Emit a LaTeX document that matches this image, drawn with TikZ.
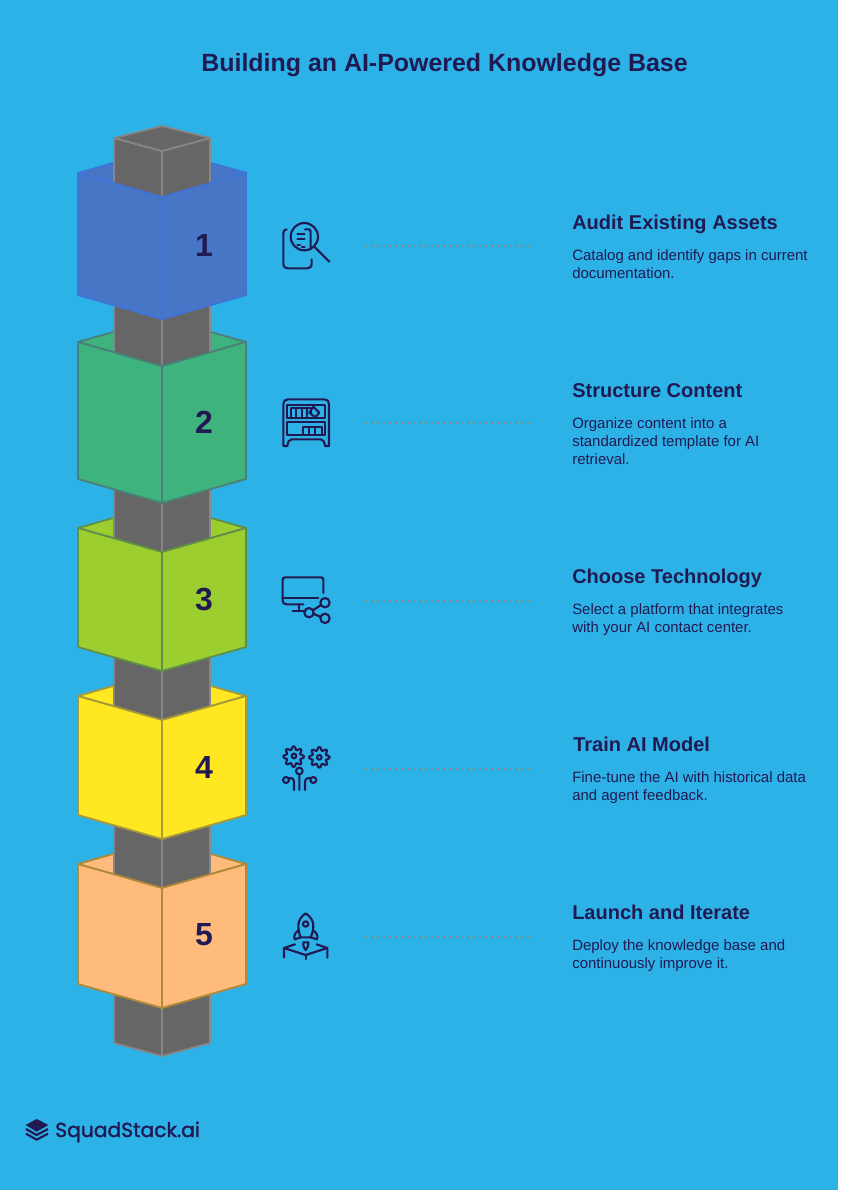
\documentclass[tikz,border=0pt]{standalone}
\usepackage{fontspec}
\setmainfont{Liberation Sans}
\newfontfamily\logofont[FakeBold=1.6]{Poppins}
\definecolor{bgblue}{HTML}{2DB2E8}
\definecolor{ink}{HTML}{211A52}
\definecolor{postfill}{HTML}{666666}
\definecolor{poststroke}{HTML}{868686}
\tikzset{
  x=0.75pt,y=-0.75pt,
  titletext/.style={anchor=base,text=ink,font=\bfseries\fontsize{18.7pt}{22pt}\selectfont},
  headtext/.style={anchor=base west,text=ink,font=\bfseries\fontsize{15pt}{18pt}\selectfont,inner sep=0pt},
  bodytext/.style={anchor=base west,text=ink,font=\fontsize{11.22pt}{13.5pt}\selectfont,inner sep=0pt},
  numtext/.style={text=ink,font=\bfseries\fontsize{24pt}{28pt}\selectfont,inner sep=0pt},
  logotext/.style={anchor=base west,text=ink,font=\logofont\fontsize{15.2pt}{18pt}\selectfont,inner sep=0pt},
  postline/.style={draw=poststroke,fill=postfill,line width=1.3pt,line join=round},
  cubeline/.style={line width=1.4pt,line join=round},
  leader/.style={draw=poststroke,line width=1.6pt,dash pattern=on 1.5pt off 3pt},
  icon/.style={draw=ink,line width=1.6pt,line cap=round,line join=round},
  iconbox/.style={x=0.25pt,y=-0.25pt},
}
\newcommand{\cubetop}[4]{%
  \filldraw[cubeline,fill=#3,draw=#4] (78,#1) -- (162,#1-24) -- (246,#1) -- (162,#1+24) -- cycle;}
\newcommand{\cubefront}[4]{%
  \filldraw[cubeline,fill=#3,draw=#4] (78,#1) -- (162,#1+24) -- (162,#2+24) -- (78,#2) -- cycle;
  \filldraw[cubeline,fill=#3,draw=#4] (246,#1) -- (162,#1+24) -- (162,#2+24) -- (246,#2) -- cycle;}
\begin{document}
\begin{tikzpicture}
\useasboundingbox (0,0) rectangle (859,1190);
\fill[white] (0,0) rectangle (859,1190);
\fill[bgblue] (0,0) rectangle (838,1190);

\node[titletext] (title) at (444.5,71) {Building an AI-Powered Knowledge Base};

\definecolor{c1f}{HTML}{4876C6}\definecolor{c1s}{HTML}{3F73D6}
\definecolor{c2f}{HTML}{3FB37D}\definecolor{c2s}{HTML}{4A8078}
\definecolor{c3f}{HTML}{9DCE30}\definecolor{c3s}{HTML}{5F9048}
\definecolor{c4f}{HTML}{FFE822}\definecolor{c4s}{HTML}{A89A3A}
\definecolor{c5f}{HTML}{FFBB7C}\definecolor{c5s}{HTML}{B08A38}

% top faces
\cubetop{173}{295}{c1f}{c1s}
\cubetop{342}{479}{c2f}{c2s}
\cubetop{528}{647}{c3f}{c3s}
\cubetop{696}{815}{c4f}{c4s}
\cubetop{864}{984}{c5f}{c5s}

% post
\filldraw[postline] (114,138) -- (162,151) -- (162,1056) -- (114,1043) -- cycle;
\filldraw[postline] (210,138) -- (162,151) -- (162,1056) -- (210,1043) -- cycle;
\filldraw[postline] (114,138) -- (162,126) -- (210,138) -- (162,151) -- cycle;

% front faces
\cubefront{173}{295}{c1f}{c1s}
\cubefront{342}{479}{c2f}{c2s}
\cubefront{528}{647}{c3f}{c3s}
\cubefront{696}{815}{c4f}{c4s}
\cubefront{864}{984}{c5f}{c5s}

\node[numtext] (n1) at (204,245) {1};
\node[numtext] (n2) at (204,422) {2};
\node[numtext] (n3) at (204,599) {3};
\node[numtext] (n4) at (204,767) {4};
\node[numtext] (n5) at (204,935) {5};

% leaders
\foreach \nm/\yy in {a/246,b/423,c/601,d/769,e/937}{
  \coordinate (\nm L) at (365,\yy);
  \coordinate (\nm R) at (534,\yy);
  \draw[leader] (\nm L) -- (\nm R);
}

% texts
\node[headtext] (h1) at (572,229) {Audit Existing Assets};
\node[bodytext] (b1a) at (572,260) {Catalog and identify gaps in current};
\node[bodytext] (b1b) at (572,278) {documentation.};
\node[headtext] (h2) at (572,397) {Structure Content};
\node[bodytext] (b2a) at (572,428) {Organize content into a};
\node[bodytext] (b2b) at (572,446) {standardized template for AI};
\node[bodytext] (b2c) at (572,464) {retrieval.};
\node[headtext] (h3) at (572,583) {Choose Technology};
\node[bodytext] (b3a) at (572,614) {Select a platform that integrates};
\node[bodytext] (b3b) at (572,632) {with your AI contact center.};
\node[headtext] (h4) at (573,751) {Train AI Model};
\node[bodytext] (b4a) at (572,782) {Fine-tune the AI with historical data};
\node[bodytext] (b4b) at (572,800) {and agent feedback.};
\node[headtext] (h5) at (572,919) {Launch and Iterate};
\node[bodytext] (b5a) at (572,950) {Deploy the knowledge base and};
\node[bodytext] (b5b) at (572,968) {continuously improve it.};

% icon 1
\begin{scope}[shift={(270,210)},iconbox]
\draw[icon] (50,58) .. controls (43,58) and (40,63) .. (40,70) -- (40,160) .. controls (40,170) and (45,175) .. (55,175) -- (110,175) .. controls (120,175) and (125,170) .. (125,160) -- (125,148);
\draw[icon] (103,80) circle (41);
\draw[icon] (133,110) -- (178,155);
\draw[icon] (82,72) -- (104,72) (82,88) -- (104,88) (82,106) -- (90,106) (96,112) -- (104,112);
\draw[icon] (105,58) -- (116,58) .. controls (120,58) and (122,62) .. (122,66) -- (122,118);
\end{scope}

% icon 2
\begin{scope}[shift={(270,390)},iconbox]
\draw[icon] (40,168) -- (40,42) .. controls (40,33) and (45,28) .. (54,28) -- (163,28) .. controls (172,28) and (177,33) .. (177,42) -- (177,168) -- (165,168) .. controls (163,155) and (160,148) .. (152,148) -- (65,148) .. controls (57,148) and (54,155) .. (52,168) -- cycle;
\draw[icon] (50,45) rectangle (165,85);
\draw[icon] (50,95) rectangle (165,135);
\draw[icon] (62,85) -- (62,55) -- (122,55) (78,55) -- (78,85) (95,55) -- (95,85) (110,55) -- (110,85) (122,55) -- (122,70);
\draw[icon] (118,68) -- (130,50) -- (148,68) -- (136,82) -- cycle;
\draw[icon] (100,135) -- (100,110) -- (155,110) -- (155,135) (118,110) -- (118,135) (136,110) -- (136,135);
\end{scope}

% icon 3
\begin{scope}[shift={(270,565)},iconbox]
\draw[icon] (100,118) -- (50,118) .. controls (42,118) and (38,114) .. (38,106) -- (38,45) .. controls (38,40) and (40,37) .. (45,37) -- (153,37) .. controls (158,37) and (160,40) .. (160,45) -- (160,84);
\draw[icon] (38,100) -- (145,100);
\draw[icon] (87,118) -- (87,137) (68,137) -- (107,137);
\draw[icon] (165,113) circle (14) (117,143) circle (14) (165,160) circle (14);
\draw[icon] (129,136) -- (153,120) (131,147) -- (151,155);
\end{scope}

% icon 4
\begin{scope}[shift={(270,735)},iconbox]
\draw[icon] plot[smooth cycle,samples=65,domain=0:354] ({71+(26+5*cos(8*\x))*cos(\x)},{65+(26+5*cos(8*\x))*sin(\x)});
\draw[icon] plot[smooth cycle,samples=65,domain=0:354] ({148+(26+5*cos(8*\x))*cos(\x)},{67+(26+5*cos(8*\x))*sin(\x)});
\draw[icon] (72,63) circle (7) (148,67) circle (7);
\draw[icon] (88,108) circle (10) (88,118) -- (88,165);
\draw[icon] (48,135) circle (9) (57,130) .. controls (66,127) and (72,132) .. (72,142) -- (72,165);
\draw[icon] (130,135) circle (9) (122,130) .. controls (112,127) and (105,132) .. (105,142) -- (105,165);
\end{scope}

% icon 5
\begin{scope}[shift={(270,905)},iconbox]
\draw[icon] (107,25) .. controls (92,35) and (85,48) .. (85,62) .. controls (85,75) and (88,88) .. (92,97) -- (122,97) .. controls (126,88) and (130,75) .. (130,62) .. controls (130,48) and (122,35) .. (107,25) -- cycle;
\draw[icon] (107,57) circle (8);
\draw[icon] (86,76) .. controls (76,82) and (70,92) .. (74,103) -- (92,97);
\draw[icon] (129,76) .. controls (139,82) and (145,92) .. (141,103) -- (122,97);
\draw[icon] (107,135) .. controls (100,125) and (98,118) .. (100,112) -- (115,112) .. controls (117,118) and (114,125) .. (107,135) -- cycle;
\draw[icon] (42,158) -- (42,129) -- (75,118);
\draw[icon] (42,129) -- (107,150) -- (172,129);
\draw[icon] (140,118) -- (172,129) -- (172,158);
\draw[icon] (107,150) -- (107,162);
\end{scope}

% logo
\begin{scope}[shift={(10,1105)},iconbox]
\fill[ink] (80,42) -- (115,60) -- (80,80) -- (47,60) -- cycle;
\draw[ink,line width=1.6pt,line join=round] (48,72) -- (80,90) -- (114,72);
\draw[ink,line width=1.6pt,line join=round] (48,86) -- (80,104) -- (114,86);
\end{scope}
\node[logotext] (logo) at (55,1137) {SquadStack.ai};
\end{tikzpicture}
\end{document}
